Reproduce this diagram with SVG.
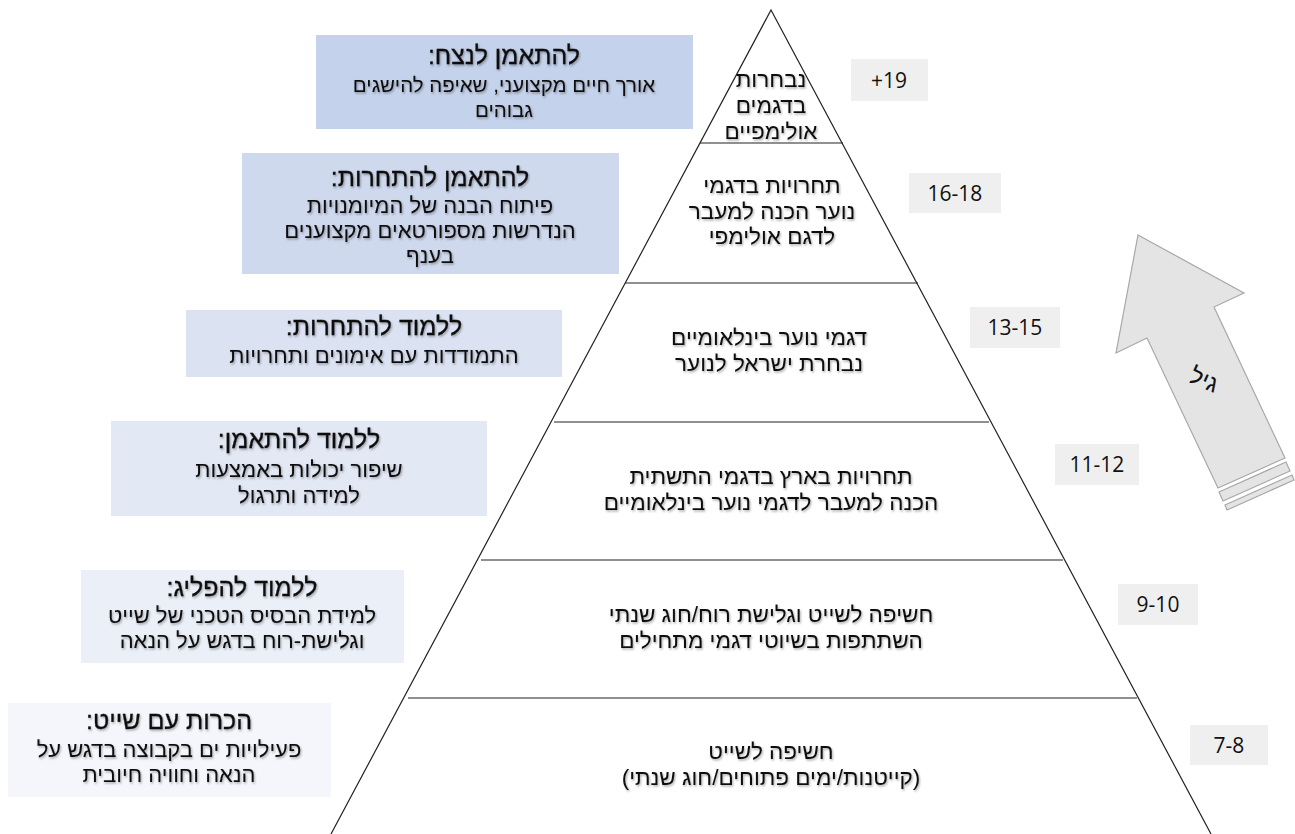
<svg xmlns="http://www.w3.org/2000/svg" width="1295" height="834" viewBox="0 0 1295 834">
<defs>
<filter id="sh" x="-5%" y="-20%" width="110%" height="150%">
<feDropShadow dx="1" dy="1.5" stdDeviation="0.8" flood-color="#000" flood-opacity="0.35"/>
</filter>
</defs>
<style>
text{font-family:"Liberation Sans","DejaVu Sans",sans-serif;fill:#111;text-anchor:middle;direction:rtl}
.t{filter:url(#sh)}
.h{font-size:25px;stroke:#111;stroke-width:0.3}
.b{font-size:22px}
.p{font-size:22.5px}
.age{font-family:"Open Sans","Liberation Sans",sans-serif;font-size:21px;direction:ltr}
.agebox{fill:#efefef}
.tier{fill:none;stroke:#222;stroke-width:1.2}
</style>
<rect width="1295" height="834" fill="#fff"/>
<g id="pyramid">
<polyline class="tier" points="331,834 771,10 1211,834"/>
<line class="tier" x1="700" y1="143" x2="843" y2="143"/>
<line class="tier" x1="625" y1="283" x2="918" y2="283"/>
<line class="tier" x1="554" y1="422" x2="989" y2="422"/>
<line class="tier" x1="481" y1="560" x2="1063" y2="560"/>
<line class="tier" x1="408" y1="698" x2="1137" y2="698"/>
</g>
<g id="tier1" class="t">
<text class="p" x="771" y="87">נבחרות</text>
<text class="p" x="771" y="113">בדגמים</text>
<text class="p" x="771" y="139">אולימפיים</text>
</g>
<g id="tier2" class="t">
<text class="p" x="772" y="193">תחרויות בדגמי</text>
<text class="p" x="772" y="219">נוער הכנה למעבר</text>
<text class="p" x="772" y="244">לדגם אולימפי</text>
</g>
<g id="tier3" class="t">
<text class="p" x="769" y="345">דגמי נוער בינלאומיים</text>
<text class="p" x="769" y="371">נבחרת ישראל לנוער</text>
</g>
<g id="tier4" class="t">
<text class="p" x="771" y="484">תחרויות בארץ בדגמי התשתית</text>
<text class="p" x="771" y="510">הכנה למעבר לדגמי נוער בינלאומיים</text>
</g>
<g id="tier5" class="t">
<text class="p" x="771" y="622">חשיפה לשייט וגלישת רוח/חוג שנתי</text>
<text class="p" x="771" y="648">השתתפות בשיוטי דגמי מתחילים</text>
</g>
<g id="tier6" class="t">
<text class="p" x="771" y="759">חשיפה לשייט</text>
<text class="p" x="771" y="785">(קייטנות/ימים פתוחים/חוג שנתי)</text>
</g>
<g id="box1">
<rect x="316" y="35" width="377" height="94" fill="#c5d2eb"/>
<g class="t">
<text class="h" x="504" y="64">להתאמן לנצח:</text>
<text class="b" x="504" y="92" style="font-size:20.5px">אורך חיים מקצועני, שאיפה להישגים</text>
<text class="b" x="504" y="117" style="font-size:20.5px">גבוהים</text>
</g>
</g>
<g id="box2">
<rect x="242" y="153" width="377" height="121" fill="#cfd9ee"/>
<g class="t">
<text class="h" x="430" y="186">להתאמן להתחרות:</text>
<text class="b" x="430" y="213">פיתוח הבנה של המיומנויות</text>
<text class="b" x="430" y="238">הנדרשות מספורטאים מקצוענים</text>
<text class="b" x="430" y="263">בענף</text>
</g>
</g>
<g id="box3">
<rect x="186" y="310" width="376" height="67" fill="#dbe2f2"/>
<g class="t">
<text class="h" x="374" y="335">ללמוד להתחרות:</text>
<text class="b" x="374" y="363">התמודדות עם אימונים ותחרויות</text>
</g>
</g>
<g id="box4">
<rect x="111" y="421" width="376" height="95" fill="#e3e8f5"/>
<g class="t">
<text class="h" x="299" y="448">ללמוד להתאמן:</text>
<text class="b" x="299" y="477">שיפור יכולות באמצעות</text>
<text class="b" x="299" y="503">למידה ותרגול</text>
</g>
</g>
<g id="box5">
<rect x="81" y="570" width="323" height="93" fill="#ebeff8"/>
<g class="t">
<text class="h" x="242" y="596">ללמוד להפליג:</text>
<text class="b" x="242" y="623">למידת הבסיס הטכני של שייט</text>
<text class="b" x="242" y="648">וגלישת-רוח בדגש על הנאה</text>
</g>
</g>
<g id="box6">
<rect x="8" y="703" width="323" height="94" fill="#f4f6fb"/>
<g class="t">
<text class="h" x="169" y="729">הכרות עם שייט:</text>
<text class="b" x="169" y="757">פעילויות ים בקבוצה בדגש על</text>
<text class="b" x="169" y="782">הנאה וחוויה חיובית</text>
</g>
</g>
<g id="age1"><rect class="agebox" x="851" y="59" width="77" height="42"/><text class="age" x="889" y="88">+19</text></g>
<g id="age2"><rect class="agebox" x="909" y="173" width="92" height="40"/><text class="age" x="955" y="201">16-18</text></g>
<g id="age3"><rect class="agebox" x="970" y="307" width="90" height="41"/><text class="age" x="1015" y="335">13-15</text></g>
<g id="age4"><rect class="agebox" x="1055" y="444" width="84" height="41"/><text class="age" x="1097" y="472">11-12</text></g>
<g id="age5"><rect class="agebox" x="1118" y="584" width="80" height="41"/><text class="age" x="1158" y="612">9-10</text></g>
<g id="age6"><rect class="agebox" x="1190" y="725" width="78" height="40"/><text class="age" x="1229" y="753">7-8</text></g>
<g id="age-arrow">
<polygon points="1138,235 1244,293 1214,307 1285,458 1218,488 1147,338 1116,353" fill="#e4e4e4" stroke="#a8a8a8" stroke-width="1.2"/>
<polygon points="1219,492 1286,462 1290,471 1223,501" fill="#e4e4e4" stroke="#a8a8a8" stroke-width="1.2"/>
<polygon points="1225,505 1292,475 1294,480 1227,510" fill="#e4e4e4" stroke="#a8a8a8" stroke-width="1.2"/>
<text x="1204" y="388" style="font-size:24px" transform="rotate(24 1204 380)">גיל</text>
</g>
</svg>
